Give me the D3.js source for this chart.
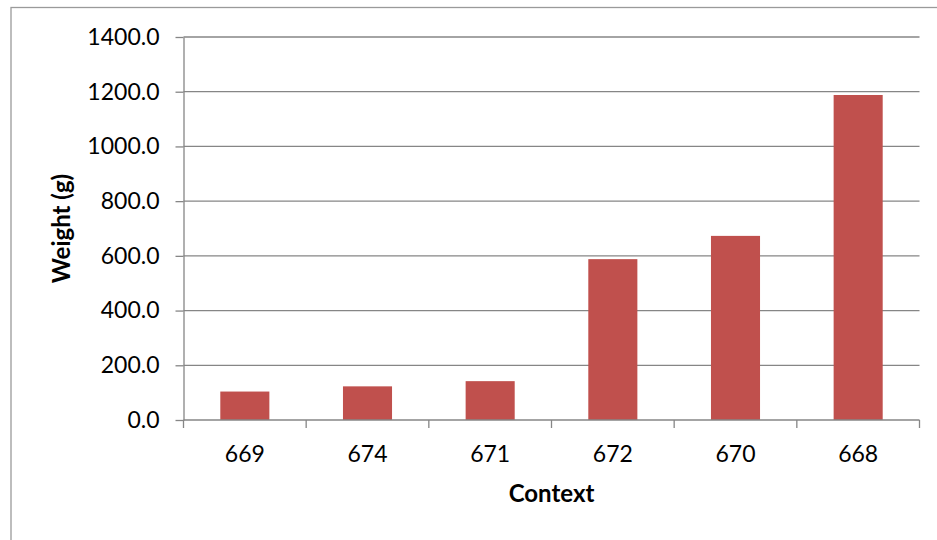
<!DOCTYPE html>
<html>
<head>
<meta charset="utf-8">
<script src="https://cdn.jsdelivr.net/npm/d3@7/dist/d3.min.js"></script>
<style>
  html, body { margin: 0; padding: 0; background: #fff; }
  svg { display: block; font-family: Lato, "Open Sans", sans-serif; }
</style>
</head>
<body>
<svg id="chart" width="937" height="540"></svg>
<script>
const categories = ["669", "674", "671", "672", "670", "668"];
const weights = [104, 123, 142, 588, 673, 1188];
const yTicks = [0, 200, 400, 600, 800, 1000, 1200, 1400];
const yTitle = "Weight (g)";
const xTitle = "Context";

(function () {
const svg = d3.select("#chart");
const mLeft = 183.5, mRight = 919.5, mTop = 37, mBottom = 420;

// outer chart border (only left and top visible)
svg.append("rect")
  .attr("x", 11).attr("y", 7.5)
  .attr("width", 1000).attr("height", 1000)
  .attr("fill", "none").attr("stroke", "#9a9a9a").attr("stroke-width", 1.3);

const x = d3.scaleBand().domain(categories).range([mLeft, mRight]).paddingInner(0.6).paddingOuter(0.3);
const y = d3.scaleLinear().domain([0, 1400]).range([mBottom, mTop]);

// gridlines
svg.append("g").selectAll("line").data(yTicks.filter(d => d > 0)).join("line")
  .attr("x1", mLeft).attr("x2", mRight)
  .attr("y1", d => y(d)).attr("y2", d => y(d))
  .attr("stroke", "#868686").attr("stroke-width", 1.3);

// bars
svg.append("g").selectAll("rect").data(categories).join("rect")
  .attr("x", d => x(d))
  .attr("width", x.bandwidth())
  .attr("y", (d, i) => y(weights[i]))
  .attr("height", (d, i) => y(0) - y(weights[i]))
  .attr("fill", "#C0504D");

// y axis
const yAxis = d3.axisLeft(y).tickValues(yTicks).tickFormat(d3.format(".1f")).tickSizeInner(8).tickSizeOuter(0).tickPadding(16);
const gy = svg.append("g").attr("transform", `translate(${mLeft},0)`).call(yAxis);
gy.select(".domain").attr("stroke", "#868686").attr("stroke-width", 1.3);
gy.selectAll(".tick line").attr("stroke", "#868686").attr("stroke-width", 1.3);
gy.selectAll(".tick text").attr("font-size", 23).attr("fill", "#000").attr("font-family", "Lato, sans-serif");

// x axis
const xBound = d3.scaleLinear().domain([0, categories.length]).range([mLeft, mRight]);
const gx = svg.append("g").attr("transform", `translate(0,${mBottom})`);
gx.append("line").attr("x1", mLeft).attr("x2", mRight).attr("y1", 0).attr("y2", 0)
  .attr("stroke", "#868686").attr("stroke-width", 1.3);
gx.selectAll("line.tk").data(d3.range(categories.length + 1)).join("line").attr("class", "tk")
  .attr("x1", i => xBound(i)).attr("x2", i => xBound(i))
  .attr("y1", 0).attr("y2", 8)
  .attr("stroke", "#868686").attr("stroke-width", 1.3);
gx.selectAll("text").data(categories).join("text")
  .attr("x", d => x(d) + x.bandwidth() / 2)
  .attr("y", 42)
  .attr("text-anchor", "middle")
  .attr("font-size", 23)
  .attr("fill", "#000")
  .text(d => d);

// axis titles
svg.append("text")
  .attr("transform", `translate(70,${(mTop + mBottom) / 2}) rotate(-90)`)
  .attr("text-anchor", "middle")
  .attr("font-size", 24).attr("font-weight", "bold").attr("fill", "#000")
  .text(yTitle);
svg.append("text")
  .attr("x", (mLeft + mRight) / 2).attr("y", 502)
  .attr("text-anchor", "middle")
  .attr("font-size", 24).attr("font-weight", "bold").attr("fill", "#000")
  .text(xTitle);
})();
</script>
</body>
</html>
